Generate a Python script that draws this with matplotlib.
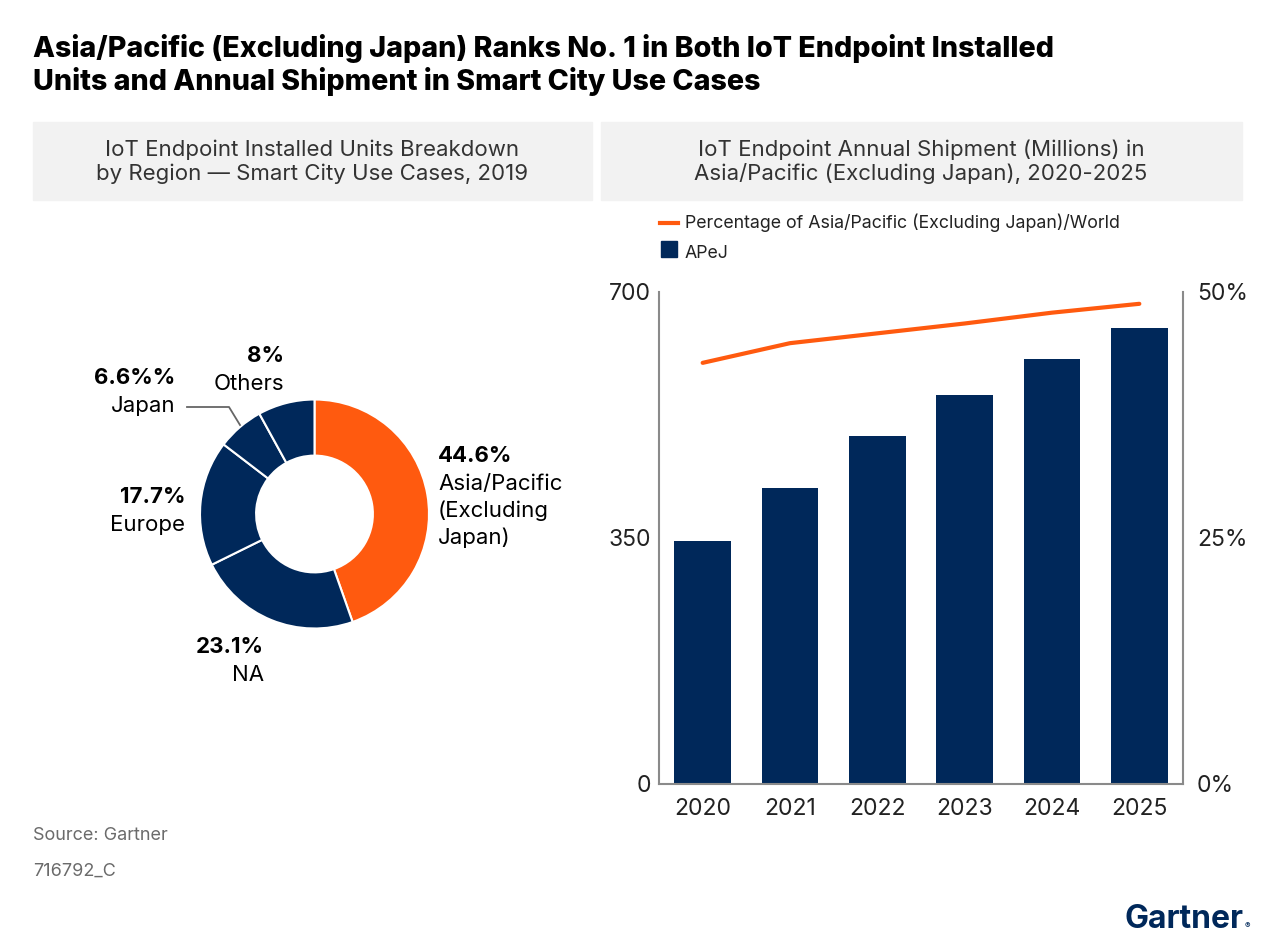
import matplotlib.pyplot as plt
from matplotlib.patches import Rectangle
from matplotlib.lines import Line2D

W, H = 1275, 942
NAVY = "#00285a"
ORANGE = "#ff5a0f"
GRAY_BOX = "#f2f2f2"

plt.rcParams["font.family"] = ["Inter", "DejaVu Sans"]

# donut data (clockwise from top)
regions = ["Asia/Pacific\n(Excluding\nJapan)", "NA", "Europe", "Japan", "Others"]
shares = [44.6, 23.1, 17.7, 6.6, 8]
share_labels = ["44.6%", "23.1%", "17.7%", "6.6%%", "8%"]
slice_colors = [ORANGE, NAVY, NAVY, NAVY, NAVY]

# bar + line data
years = ["2020", "2021", "2022", "2023", "2024", "2025"]
shipments = [346, 421, 495, 553, 605, 649]
pct_world = [42.8, 44.8, 45.8, 46.8, 47.9, 48.8]


def fx(x):
    return x / W


def fy(y):
    return 1 - y / H


fig = plt.figure(figsize=(W / 100, H / 100), dpi=100)

# title
fig.text(fx(33), fy(57), "Asia/Pacific (Excluding Japan) Ranks No. 1 in Both IoT Endpoint Installed",
         fontsize=20.6, fontweight="heavy", color="black", va="baseline")
fig.text(fx(33), fy(90), "Units and Annual Shipment in Smart City Use Cases",
         fontsize=20.6, fontweight="heavy", color="black", va="baseline")

# panel headers
for x0, x1 in [(33, 592), (601, 1242)]:
    fig.patches.append(Rectangle((fx(x0), fy(200)), fx(x1 - x0), (200 - 122) / H,
                                 transform=fig.transFigure, color=GRAY_BOX, zorder=0))
fig.text(fx(312), fy(162), "IoT Endpoint Installed Units Breakdown\nby Region — Smart City Use Cases, 2019",
         fontsize=16, color="#333333", ha="center", va="center", linespacing=1.2)
fig.text(fx(921), fy(162), "IoT Endpoint Annual Shipment (Millions) in\nAsia/Pacific (Excluding Japan), 2020-2025",
         fontsize=16, color="#333333", ha="center", va="center", linespacing=1.2)

# donut
r = 114.5
axp = fig.add_axes([fx(314.5 - r), fy(514 + r), 2 * r / W, 2 * r / H])
axp.pie(shares, colors=slice_colors, startangle=90, counterclock=False,
        wedgeprops=dict(width=0.49, edgecolor="white", linewidth=1.5))
axp.set_xlim(-1, 1)
axp.set_ylim(-1, 1)
axp.set_aspect("equal")
axp.axis("off")

# donut labels: (x, baseline y, ha)
label_pos = [(438, 462, "left"), (264, 653, "right"), (185, 503, "right"),
             (175, 384, "right"), (284, 362, "right")]
for name, lab, (x, y, ha) in zip(regions, share_labels, label_pos):
    fig.text(fx(x), fy(y), lab, fontsize=16, fontweight="bold", ha=ha, va="baseline")
    for i, line in enumerate(name.split("\n")):
        fig.text(fx(x), fy(y + 28 + 27 * i), line, fontsize=16, ha=ha, va="baseline")

fig.lines.append(Line2D([fx(187), fx(229), fx(240)], [fy(407), fy(407), fy(425)],
                        transform=fig.transFigure, color="#666666", lw=1.3))

# bars
ax = fig.add_axes([fx(659), fy(784), (1183 - 659) / W, (784 - 292) / H])
xs = range(len(years))
ax.bar(xs, shipments, width=0.65, color=NAVY, zorder=2)
ax.set_xlim(-0.5, 5.5)
ax.set_ylim(0, 700)
ax.set_yticks([0, 350, 700])
ax.set_xticks(list(xs))
ax.set_xticklabels(years)
ax.tick_params(axis="both", length=0, labelsize=16.5, colors="#222222")
ax.tick_params(axis="y", pad=6)
ax.tick_params(axis="x", pad=10)
for s in ["left", "bottom"]:
    ax.spines[s].set_color("#8a8a8a")
    ax.spines[s].set_linewidth(1.5)
ax.spines["top"].set_visible(False)
ax.spines["right"].set_visible(False)

ax2 = ax.twinx()
ax2.plot(list(xs), pct_world, color=ORANGE, lw=3, solid_capstyle="round", zorder=3)
ax2.set_ylim(0, 50)
ax2.set_yticks([0, 25, 50])
ax2.set_yticklabels(["0%", "25%", "50%"])
ax2.tick_params(axis="y", length=0, labelsize=16.5, colors="#222222", pad=10)
ax2.spines["right"].set_color("#8a8a8a")
ax2.spines["right"].set_linewidth(1.5)
for s in ["left", "top", "bottom"]:
    ax2.spines[s].set_visible(False)

# legend
fig.lines.append(Line2D([fx(660), fx(678)], [fy(223), fy(223)], transform=fig.transFigure,
                        color=ORANGE, lw=3))
fig.text(fx(685), fy(223), "Percentage of Asia/Pacific (Excluding Japan)/World",
         fontsize=12.8, color="#222222", va="center")
fig.patches.append(Rectangle((fx(661), fy(257)), 16 / W, 16 / H, transform=fig.transFigure,
                             color=NAVY))
fig.text(fx(685), fy(253), "APeJ", fontsize=12.8, color="#222222", va="center")

# footer
fig.text(fx(33), fy(836), "Source: Gartner", fontsize=13, color="#6b6b6b", va="center")
fig.text(fx(33), fy(871), "716792_C", fontsize=13, color="#6b6b6b", va="center")
fig.text(fx(1244), fy(928), "Gartner", fontsize=23, fontweight="bold", color=NAVY,
         ha="right", va="baseline")
fig.text(fx(1250), fy(928), "®", fontsize=6, color=NAVY, ha="right", va="baseline")

fig.savefig("out.png", dpi=100)
